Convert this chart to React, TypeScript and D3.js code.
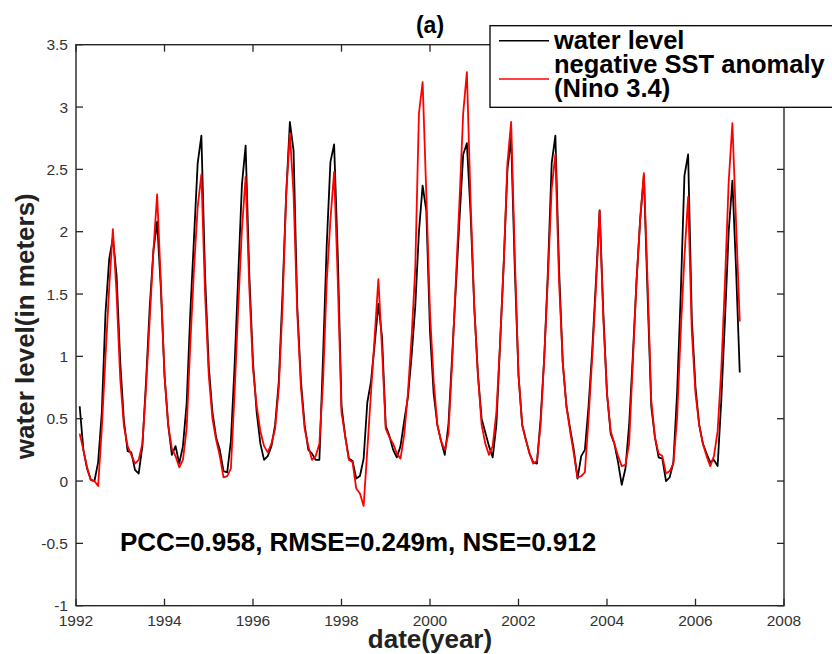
import React from "react";
import * as d3 from "d3";

const startYear = 1992;
const xTicks = [1992, 1994, 1996, 1998, 2000, 2002, 2004, 2006, 2008];
const yTicks = [-1, -0.5, 0, 0.5, 1, 1.5, 2, 2.5, 3, 3.5];
const yTickLabels = ["-1", "-0.5", "0", "0.5", "1", "1.5", "2", "2.5", "3", "3.5"];

// monthly water level (m), Jan 1992 .. Dec 2006
const waterLevel = [
  0.60, 0.25, 0.10, 0.01, 0.00, 0.15, 0.55, 1.35, 1.78, 1.95, 1.65, 0.95,
  0.48, 0.24, 0.23, 0.09, 0.06, 0.28, 0.80, 1.40, 1.85, 2.08, 1.55, 0.85,
  0.45, 0.21, 0.28, 0.14, 0.28, 0.62, 1.35, 1.95, 2.55, 2.77, 1.65, 0.92,
  0.55, 0.35, 0.25, 0.08, 0.07, 0.32, 0.92, 1.65, 2.38, 2.69, 1.65, 0.95,
  0.55, 0.30, 0.17, 0.20, 0.28, 0.45, 0.80, 1.50, 2.30, 2.88, 2.65, 1.40,
  0.80, 0.45, 0.25, 0.22, 0.17, 0.17, 1.00, 1.90, 2.56, 2.70, 1.80, 0.60,
  0.36, 0.18, 0.16, 0.02, 0.04, 0.18, 0.63, 0.80, 1.10, 1.42, 1.15, 0.44,
  0.36, 0.25, 0.19, 0.28, 0.48, 0.67, 1.00, 1.40, 2.00, 2.37, 2.17, 1.20,
  0.70, 0.45, 0.32, 0.21, 0.45, 1.00, 1.55, 2.10, 2.62, 2.71, 2.15, 1.40,
  0.85, 0.50, 0.39, 0.28, 0.19, 0.45, 1.10, 1.75, 2.50, 2.75, 1.70, 0.85,
  0.45, 0.33, 0.22, 0.15, 0.14, 0.50, 1.00, 1.70, 2.55, 2.77, 1.70, 0.95,
  0.60, 0.42, 0.25, 0.02, 0.20, 0.25, 0.60, 1.05, 1.60, 2.17, 1.35, 0.70,
  0.38, 0.30, 0.15, -0.03, 0.10, 0.45, 1.00, 1.60, 2.10, 2.45, 1.50, 0.60,
  0.35, 0.19, 0.18, 0.00, 0.03, 0.15, 0.70, 1.50, 2.45, 2.62, 1.30, 0.75,
  0.45, 0.30, 0.22, 0.15, 0.17, 0.12, 0.65, 1.30, 2.00, 2.41, 1.70, 0.87,
];

// negative SST anomaly (Nino 3.4), rescaled
const negSST = [
  0.38, 0.25, 0.11, 0.01, 0.00, -0.04, 0.42, 1.00, 1.55, 2.02, 1.50, 0.82,
  0.44, 0.28, 0.21, 0.14, 0.17, 0.30, 0.75, 1.30, 1.85, 2.30, 1.60, 0.85,
  0.45, 0.26, 0.20, 0.11, 0.17, 0.42, 1.10, 1.70, 2.20, 2.46, 1.50, 0.85,
  0.50, 0.33, 0.20, 0.03, 0.04, 0.10, 0.70, 1.40, 2.02, 2.44, 1.55, 0.90,
  0.60, 0.40, 0.28, 0.23, 0.30, 0.42, 0.75, 1.40, 2.30, 2.79, 2.30, 1.35,
  0.75, 0.42, 0.28, 0.17, 0.20, 0.30, 0.80, 1.60, 2.10, 2.48, 1.60, 0.55,
  0.36, 0.17, 0.15, -0.06, -0.10, -0.20, 0.25, 0.71, 1.16, 1.62, 1.05, 0.42,
  0.35, 0.30, 0.22, 0.18, 0.37, 0.70, 1.15, 1.70, 2.95, 3.20, 2.30, 1.35,
  0.80, 0.45, 0.32, 0.25, 0.38, 0.95, 1.60, 2.25, 2.95, 3.28, 2.25, 1.40,
  0.85, 0.45, 0.30, 0.21, 0.28, 0.55, 1.10, 1.75, 2.55, 2.88, 1.80, 0.85,
  0.45, 0.33, 0.22, 0.14, 0.16, 0.45, 1.00, 1.65, 2.35, 2.62, 1.60, 0.95,
  0.60, 0.40, 0.22, 0.03, 0.04, 0.07, 0.50, 1.00, 1.55, 2.17, 1.30, 0.70,
  0.40, 0.30, 0.20, 0.12, 0.13, 0.30, 0.95, 1.60, 2.10, 2.47, 1.60, 0.65,
  0.35, 0.22, 0.20, 0.06, 0.08, 0.14, 0.50, 1.20, 1.80, 2.28, 1.20, 0.70,
  0.45, 0.30, 0.20, 0.12, 0.20, 0.40, 0.90, 1.60, 2.40, 2.87, 2.07, 1.28,
];

const legendLabels = ["water level", "negative SST anomaly", "(Nino 3.4)"];
const titleText = "(a)";
const statsText = "PCC=0.958, RMSE=0.249m, NSE=0.912";
const xLabel = "date(year)";
const yLabel = "water level(in meters)";

const W = 832;
const H = 654;
const left = 76, right = 784, top = 44.7, bottom = 605.7;
const FONT = "'Liberation Sans', Arial, Helvetica, sans-serif";
const AXIS = "#262626";

export default function App() {
  const x = d3.scaleLinear().domain([1992, 2008]).range([left, right]);
  const y = d3.scaleLinear().domain([-1, 3.5]).range([bottom, top]);
  const t = (i: number) => startYear + (i + 1) / 12;
  const line = d3
    .line<number>()
    .x((_, i) => x(t(i)))
    .y((d) => y(d));

  const tickLen = 7;
  return (
    <svg
      width={W}
      height={H}
      style={{ position: "absolute", left: 0, top: 0, background: "#fff" }}
      fontFamily={FONT}
    >
      <rect x={0} y={0} width={W} height={H} fill="#fff" />
      {/* data */}
      <path d={line(waterLevel) || ""} fill="none" stroke="#000" strokeWidth={1.8} strokeLinejoin="round" />
      <path d={line(negSST) || ""} fill="none" stroke="#ff0000" strokeWidth={1.8} strokeLinejoin="round" />

      {/* axes box */}
      <rect x={left} y={top} width={right - left} height={bottom - top} fill="none" stroke={AXIS} strokeWidth={1.4} />
      {xTicks.map((v) => (
        <g key={"xt" + v}>
          <line x1={x(v)} x2={x(v)} y1={bottom} y2={bottom - tickLen} stroke={AXIS} strokeWidth={1.3} />
          <line x1={x(v)} x2={x(v)} y1={top} y2={top + tickLen} stroke={AXIS} strokeWidth={1.3} />
          <text x={x(v)} y={626} textAnchor="middle" fontSize={15.5} fill="#333">
            {v}
          </text>
        </g>
      ))}
      {yTicks.map((v, i) => (
        <g key={"yt" + v}>
          <line x1={left} x2={left + tickLen} y1={y(v)} y2={y(v)} stroke={AXIS} strokeWidth={1.3} />
          <line x1={right} x2={right - tickLen} y1={y(v)} y2={y(v)} stroke={AXIS} strokeWidth={1.3} />
          <text x={68} y={y(v) + 5.5} textAnchor="end" fontSize={15.5} fill="#333">
            {yTickLabels[i]}
          </text>
        </g>
      ))}

      {/* labels */}
      <text x={(left + right) / 2} y={648} textAnchor="middle" fontSize={26} fontWeight="bold" fill="#222">
        {xLabel}
      </text>
      <text
        transform={`translate(34, ${(top + bottom) / 2 + 1}) rotate(-90)`}
        textAnchor="middle"
        fontSize={26}
        fontWeight="bold"
        fill="#222"
      >
        {yLabel}
      </text>
      <text x={430} y={33} textAnchor="middle" fontSize={23} fontWeight="bold" fill="#000">
        {titleText}
      </text>
      <text x={120} y={551} fontSize={26} fontWeight="bold" fill="#000">
        {statsText}
      </text>

      {/* legend */}
      <rect x={490} y={25.7} width={360} height={81.6} fill="#fff" stroke="#000" strokeWidth={1.3} />
      <line x1={499} x2={549} y1={40.7} y2={40.7} stroke="#000" strokeWidth={1.6} />
      <line x1={499} x2={549} y1={79} y2={79} stroke="#ff0000" strokeWidth={1.6} />
      <text x={554} y={49} fontSize={25.5} fontWeight="bold" fill="#000">
        {legendLabels[0]}
      </text>
      <text x={554} y={73} fontSize={25.5} fontWeight="bold" fill="#000">
        {legendLabels[1]}
      </text>
      <text x={554} y={97} fontSize={25.5} fontWeight="bold" fill="#000">
        {legendLabels[2]}
      </text>
    </svg>
  );
}
